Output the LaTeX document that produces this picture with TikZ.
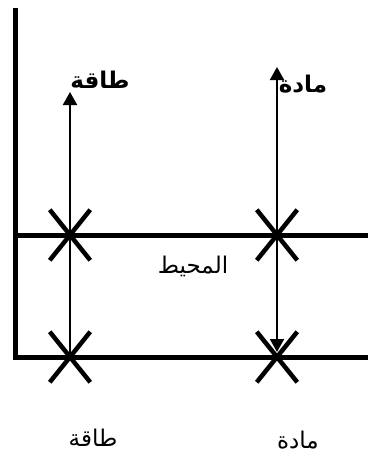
\documentclass[tikz,border=0pt]{standalone}
\usepackage{fontspec}
\newfontfamily\arabicfont[Script=Arabic]{DejaVu Sans}
\TeXXeTstate=1
\usetikzlibrary{arrows.meta,shapes.misc}

\begin{document}
\begin{tikzpicture}[x=1pt,y=-1pt,
  every node/.style={font=\arabicfont\fontsize{23}{27}\selectfont,inner sep=1pt},
  boldlabel/.style={font=\arabicfont\bfseries\fontsize{23}{27}\selectfont},
  wall/.style={line width=5pt},
  flow/.style={line width=2pt},
  flowtip/.tip={Triangle[length=13pt,width=14pt]},
  crossmark/.style={draw,cross out,line width=4.5pt,minimum width=36pt,minimum height=46pt,inner sep=0pt}]
 \useasboundingbox (0,0) rectangle (368,466);
 % walls of the system
 \coordinate (wallTop) at (15,8);
 \coordinate (corner) at (15,357);
 \coordinate (floorEnd) at (368,357);
 \coordinate (roofStart) at (15,235);
 \coordinate (roofEnd) at (368,235);
 \draw[wall,line join=miter] (wallTop) -- (corner) -- (floorEnd);
 \draw[wall] (roofStart) -- (roofEnd);
 % crossing points
 \node[crossmark] (eRoof) at (70,235) {};
 \node[crossmark] (mRoof) at (277,235) {};
 \node[crossmark] (eFloor) at (70,357) {};
 \node[crossmark] (mFloor) at (277,357) {};
 % flows
 \coordinate (eTip) at (70,92);
 \coordinate (mTip) at (277,67);
 \coordinate (mEnd) at (277,352);
 \draw[flow,-flowtip] (eFloor.center) -- (eTip);
 \draw[flow,flowtip-flowtip] (mTip) -- (mEnd);
 % labels
 \node[boldlabel] (energyTop) at (100,80) {\beginR طاقة\endR};
 \node[boldlabel] (matterTop) at (303,84) {\beginR مادة\endR};
 \node (surround) at (193,266) {\beginR المحيط\endR};
 \node (energyBottom) at (93,438) {\beginR طاقة\endR};
 \node (matterBottom) at (298,440) {\beginR مادة\endR};
\end{tikzpicture}
\end{document}
